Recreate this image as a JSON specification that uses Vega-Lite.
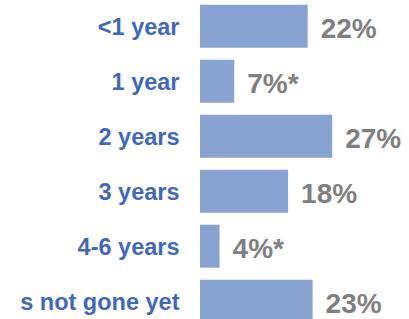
{
  "$schema": "https://vega.github.io/schema/vega-lite/v6.json",
  "width": 209,
  "height": 319,
  "autosize": "none",
  "padding": {"left": 200, "top": 0, "right": 0, "bottom": 0},
  "background": "white",
  "config": {"view": {"stroke": null}, "font": "Liberation Sans"},
  "data": {"values": [
    {"period": "<1 year", "pct": 22, "label": "22%"},
    {"period": "1 year", "pct": 7, "label": "7%*"},
    {"period": "2 years", "pct": 27, "label": "27%"},
    {"period": "3 years", "pct": 18, "label": "18%"},
    {"period": "4-6 years", "pct": 4, "label": "4%*"},
    {"period": "s not gone yet", "pct": 23, "label": "23%"}
  ]},
  "encoding": {
    "y": {
      "field": "period", "type": "nominal", "sort": null,
      "scale": {"range": [0, 327.4], "paddingInner": 0.218, "paddingOuter": 0.085},
      "axis": {"title": null, "domain": false, "ticks": false, "labelPadding": 21,
               "labelFont": "Liberation Sans", "labelFontSize": 23.5, "labelFontWeight": "bold",
               "labelColor": "#4169b8", "labelLimit": 300, "labelBaseline": "middle", "labelOffset": 2}
    },
    "x": {
      "field": "pct", "type": "quantitative",
      "scale": {"domain": [0, 42.69], "nice": false},
      "axis": null
    }
  },
  "layer": [
    {"mark": {"type": "bar", "color": "#88a2d2"}},
    {"mark": {"type": "text", "align": "left", "baseline": "middle", "dx": 13, "dy": 4,
              "font": "Liberation Sans", "fontSize": 28, "fontWeight": "bold", "color": "#7f7f7f"},
     "encoding": {"text": {"field": "label"}}}
  ]
}
